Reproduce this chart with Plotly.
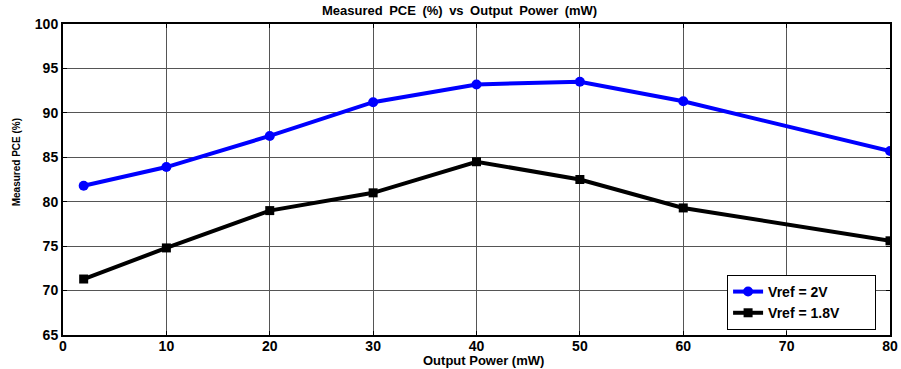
import plotly.graph_objects as go

power_mw = [2, 10, 20, 30, 40, 50, 60, 80]
pce_2v = [81.8, 83.9, 87.4, 91.2, 93.2, 93.5, 91.3, 85.7]
pce_18v = [71.3, 74.8, 79.0, 81.0, 84.5, 82.5, 79.3, 75.6]
x_ticks = [0, 10, 20, 30, 40, 50, 60, 70, 80]
y_ticks = [65, 70, 75, 80, 85, 90, 95, 100]

FONT = "Liberation Sans, Arial, sans-serif"

fig = go.Figure()
fig.add_trace(go.Scatter(
    x=power_mw, y=pce_2v, mode="lines+markers", name="<b>Vref = 2V</b>\u2003\u2003\u2003",
    line=dict(color="#0000ff", width=4),
    marker=dict(symbol="circle", size=10, color="#0000ff"),
))
fig.add_trace(go.Scatter(
    x=power_mw, y=pce_18v, mode="lines+markers", name="<b>Vref = 1.8V</b>\u2003\u2003",
    line=dict(color="#000000", width=4),
    marker=dict(symbol="square", size=9, color="#000000"),
))

axis_common = dict(
    showline=True, linecolor="black", linewidth=2, mirror="ticks",
    ticks="inside", ticklen=4, tickcolor="black",
    showgrid=True, gridcolor="#555555", gridwidth=1,
    zeroline=False, automargin=False,
    tickfont=dict(family=FONT, size=14, color="black"),
)

fig.update_xaxes(
    range=[0, 80], tickvals=x_ticks, ticktext=[f"<b>{v}</b>" for v in x_ticks],
    ticklabelstandoff=-3,
    **axis_common,
)
fig.update_yaxes(
    range=[65, 100], tickvals=y_ticks, ticktext=[f"<b>{v}</b>" for v in y_ticks],
    **axis_common,
)

sp = "\u2002"
title_text = "<b>" + sp.join(["Measured", "PCE", "(%)", "vs", "Output", "Power", "(mW)"]) + "</b>"
fig.update_layout(
    width=901, height=369,
    margin=dict(l=63, r=11, t=24, b=34),
    paper_bgcolor="white", plot_bgcolor="white",
    showlegend=True,
    legend=dict(
        x=0.803, y=0.193, xanchor="left", yanchor="top",
        bgcolor="white", bordercolor="black", borderwidth=1,
        font=dict(family=FONT, size=14, color="black"),
        itemwidth=30, tracegroupgap=4,
    ),
    annotations=[
        dict(text=title_text, xref="paper", yref="paper",
             x=((311 + 608) / 2 - 63) / 827, y=(335 - 10) / 311.5,
             xanchor="center", yanchor="middle", showarrow=False,
             font=dict(family=FONT, size=13, color="black")),
        dict(text="<b>Output Power (mW)</b>", xref="paper", yref="paper",
             x=(484 - 63) / 827, y=-0.082, xanchor="center", yanchor="middle",
             showarrow=False, font=dict(family=FONT, size=13, color="black")),
        dict(text="<b>Measured PCE (%)</b>", xref="paper", yref="paper",
             x=-47 / 827, y=(335 - 162) / 311.5, xanchor="center", yanchor="middle",
             textangle=-90, showarrow=False,
             font=dict(family=FONT, size=10, color="black")),
    ],
)

fig.write_html("out.html")
